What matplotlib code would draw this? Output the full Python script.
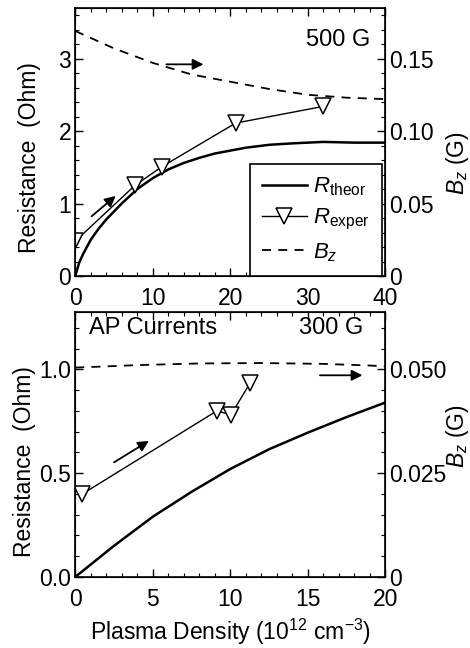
import matplotlib.pyplot as plt
from matplotlib.ticker import MultipleLocator, FixedLocator, FixedFormatter

plt.rcParams['font.family'] = ['Liberation Sans', 'DejaVu Sans']
plt.rcParams['mathtext.fontset'] = 'custom'
plt.rcParams['mathtext.rm'] = 'Liberation Sans'
plt.rcParams['mathtext.it'] = 'Liberation Sans:italic'
plt.rcParams['font.size'] = 16

# top panel (500 G)
top_theor_x = [0, 0.5, 1, 2, 3, 4, 6, 8, 10, 12, 14, 16, 18, 20, 22, 25, 28, 32, 36, 40]
top_theor_y = [0, 0.18, 0.3, 0.5, 0.65, 0.78, 1.0, 1.2, 1.35, 1.47, 1.56, 1.63, 1.69,
               1.73, 1.77, 1.81, 1.83, 1.85, 1.84, 1.84]
top_exp_x = [0, 7.7, 11.2, 20.7, 32.0]
top_exp_y = [0.48, 1.25, 1.51, 2.11, 2.34]
top_bz_x = [0, 5, 10, 15, 20, 25, 30, 35, 40]
top_bz_y = [0.169, 0.157, 0.147, 0.139, 0.134, 0.129, 0.125, 0.123, 0.122]

# bottom panel (300 G)
bot_theor_x = [0, 2.5, 5, 7.5, 10, 12.5, 15, 17.5, 20]
bot_theor_y = [0, 0.15, 0.29, 0.41, 0.52, 0.615, 0.695, 0.77, 0.84]
bot_exp_x = [0.47, 9.14, 10.04, 11.29]
bot_exp_y = [0.40, 0.80, 0.78, 0.936]
bot_bz_x = [0, 4, 8, 12, 16, 19, 20]
bot_bz_y = [0.0504, 0.0510, 0.0514, 0.0515, 0.0513, 0.0509, 0.0507]

fig = plt.figure(figsize=(4.7, 6.48), dpi=100)
ax1 = fig.add_axes([0.160, 0.574, 0.660, 0.414])
ax3 = fig.add_axes([0.160, 0.1096, 0.660, 0.409])


def style(ax):
    ax.tick_params(which='both', direction='in', top=True, labelsize=16.5)
    ax.tick_params(axis='x', pad=8)
    ax.tick_params(axis='y', pad=3)
    ax.tick_params(which='major', length=6, width=1)
    ax.tick_params(which='minor', length=3, width=0.8)
    for s in ax.spines.values():
        s.set_linewidth(1.2)


def style_right(ax):
    ax.tick_params(which='both', direction='in', labelsize=16.5, pad=3)
    ax.tick_params(which='major', length=6, width=1)
    ax.tick_params(which='minor', length=3, width=0.8)


arrow = dict(arrowstyle='-|>', color='black', lw=1.3, mutation_scale=16)

# ---- top
l1, = ax1.plot(top_theor_x, top_theor_y, color='black', lw=1.8, label=r'$\mathit{R}_{\rm theor}$')
l2, = ax1.plot(top_exp_x, top_exp_y, color='black', lw=1, marker='v', ms=12,
               mfc='white', mec='black', mew=1.1, label=r'$\mathit{R}_{\rm exper}$')
ax1.set_xlim(0, 40)
ax1.set_ylim(0, 3.7)
ax1.xaxis.set_major_locator(MultipleLocator(10))
ax1.xaxis.set_minor_locator(MultipleLocator(2))
ax1.yaxis.set_major_locator(MultipleLocator(1))
ax1.yaxis.set_minor_locator(MultipleLocator(0.2))
ax1.set_ylabel('Resistance  (Ohm)', fontsize=16.5)
ax1.yaxis.set_label_coords(-0.11, 0.44)
style(ax1)
ax2 = ax1.twinx()
l3, = ax2.plot(top_bz_x, top_bz_y, color='black', lw=1.3, ls=(0, (5, 4)), label=r'$\mathit{B}_z$')
ax2.set_ylim(0, 0.185)
ax2.yaxis.set_major_locator(FixedLocator([0, 0.05, 0.10, 0.15]))
ax2.yaxis.set_major_formatter(FixedFormatter(['0', '0.05', '0.10', '0.15']))
ax2.yaxis.set_minor_locator(MultipleLocator(0.01))
style_right(ax2)
ax2.set_ylabel(r'$\mathit{B}_z$ (G)', fontsize=16.5)
ax2.yaxis.set_label_coords(1.19, 0.42)
ax1.text(38.0, 3.25, '500 G', ha='right', va='center', fontsize=17)
ax1.annotate('', xy=(16.9, 2.92), xytext=(11.4, 2.92), arrowprops=arrow)
ax1.annotate('', xy=(5.5, 1.13), xytext=(1.85, 0.80), arrowprops=arrow)
leg = ax2.legend(handles=[l1, l2, l3], loc='lower right', bbox_to_anchor=(0.99, 0.0),
                 borderaxespad=0, fancybox=False, edgecolor='black', framealpha=1,
                 fontsize=16, handlelength=2.0, labelspacing=0.4, borderpad=0.55,
                 handletextpad=0.3)
leg.get_frame().set_linewidth(1.2)

# ---- bottom
ax3.plot(bot_theor_x, bot_theor_y, color='black', lw=1.8)
ax3.plot(bot_exp_x, bot_exp_y, color='black', lw=1, marker='v', ms=12,
         mfc='white', mec='black', mew=1.1)
ax3.set_xlim(0, 20)
ax3.set_ylim(0, 1.276)
ax3.xaxis.set_major_locator(MultipleLocator(5))
ax3.xaxis.set_minor_locator(MultipleLocator(1))
ax3.yaxis.set_major_locator(FixedLocator([0, 0.5, 1.0]))
ax3.yaxis.set_major_formatter(FixedFormatter(['0.0', '0.5', '1.0']))
ax3.yaxis.set_minor_locator(MultipleLocator(0.1))
ax3.set_ylabel('Resistance  (Ohm)', fontsize=16.5)
ax3.yaxis.set_label_coords(-0.125, 0.434)
ax3.set_xlabel(r'Plasma Density (10$^{12}$ cm$^{-3}$)', fontsize=16.5)
ax3.xaxis.set_label_coords(0.5, -0.15)
style(ax3)
ax4 = ax3.twinx()
ax4.plot(bot_bz_x, bot_bz_y, color='black', lw=1.3, ls=(0, (5, 4)))
ax4.set_ylim(0, 0.0638)
ax4.yaxis.set_major_locator(FixedLocator([0, 0.025, 0.050]))
ax4.yaxis.set_major_formatter(FixedFormatter(['0', '0.025', '0.050']))
ax4.yaxis.set_minor_locator(MultipleLocator(0.005))
style_right(ax4)
ax4.set_ylabel(r'$\mathit{B}_z$ (G)', fontsize=16.5)
ax4.yaxis.set_label_coords(1.19, 0.53)
ax3.text(0.9, 1.2, 'AP Currents', ha='left', va='center', fontsize=17)
ax3.text(18.6, 1.2, '300 G', ha='right', va='center', fontsize=17)
ax3.annotate('', xy=(4.9, 0.662), xytext=(2.35, 0.545), arrowprops=arrow)
ax3.annotate('', xy=(18.7, 0.971), xytext=(15.6, 0.971), arrowprops=arrow)

fig.savefig('out.png', dpi=100)
